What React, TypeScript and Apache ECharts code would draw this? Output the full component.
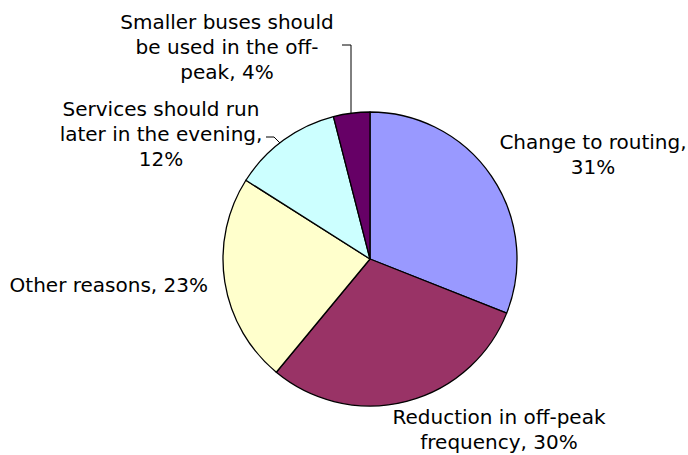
import React, { useEffect, useRef } from "react";
import * as echarts from "echarts";

const categories = [
  "Change to routing",
  "Reduction in off-peak frequency",
  "Other reasons",
  "Services should run later in the evening",
  "Smaller buses should be used in the off-peak",
];
const labelLines = [
  ["Change to routing,", "{v}%"],
  ["Reduction in off-peak", "frequency, {v}%"],
  ["Other reasons, {v}%"],
  ["Services should run", "later in the evening,", "{v}%"],
  ["Smaller buses should", "be used in the off-", "peak, {v}%"],
];
const values = [31, 30, 23, 12, 4];
const colors = ["#9999FF", "#993366", "#FFFFCC", "#CCFFFF", "#660066"];

// label anchor positions (pixels) and alignment
const labelPos: [number, number, string][] = [
  [593, 154, "center"],
  [499, 429, "center"],
  [208, 285, "right"],
  [161, 134, "center"],
  [227, 47, "center"],
];
const leaderPoints: Record<number, number[][]> = {
  3: [
    [282, 145],
    [274, 137],
    [266, 137],
  ],
  4: [
    [351, 113],
    [351, 45],
    [342, 45],
  ],
};

export default function App() {
  const ref = useRef<HTMLDivElement>(null);
  useEffect(() => {
    if (!ref.current) return;
    const chart = echarts.init(ref.current, undefined, { renderer: "svg" });
    chart.setOption({
      animation: false,
      backgroundColor: "#ffffff",
      series: [
        {
          type: "pie",
          center: [370, 259],
          radius: 147,
          startAngle: 90,
          clockwise: true,
          emphasis: { disabled: true },
          itemStyle: { borderColor: "#000000", borderWidth: 1.3 },
          label: {
            show: true,
            position: "outside",
            overflow: "none",
            fontFamily: "'DejaVu Sans', Arial, sans-serif",
            fontSize: 20,
            lineHeight: 25,
            color: "#000000",
            formatter: (p: any) =>
              labelLines[p.dataIndex]
                .map((s) => s.replace("{v}", String(p.value)))
                .join("\n"),
          },
          labelLine: { show: false },
          labelLayout: (p: any) => {
            const pos = labelPos[p.dataIndex];
            const res: any = {
              x: pos[0],
              y: pos[1],
              align: pos[2],
              verticalAlign: "middle",
            };
            if (leaderPoints[p.dataIndex]) {
              res.labelLinePoints = leaderPoints[p.dataIndex];
            }
            return res;
          },
          data: categories.map((name, i) => ({
            name,
            value: values[i],
            itemStyle: { color: colors[i] },
            labelLine: leaderPoints[i]
              ? { show: true, lineStyle: { color: "#000000", width: 1 } }
              : { show: false },
          })),
        },
      ],
    });
    return () => chart.dispose();
  }, []);
  return (
    <div
      ref={ref}
      style={{ position: "absolute", left: 0, top: 0, width: 688, height: 455 }}
    />
  );
}
